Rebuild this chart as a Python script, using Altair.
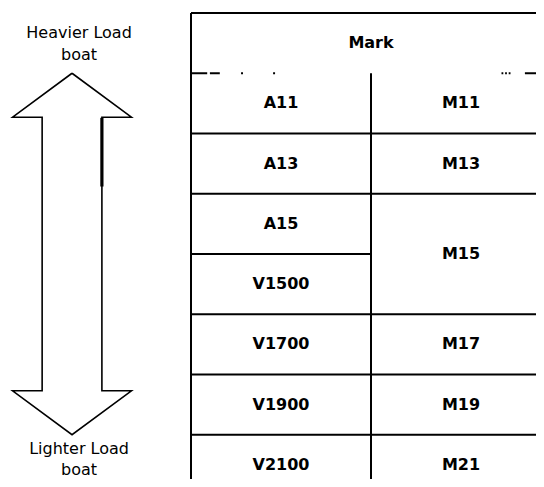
import altair as alt
import pandas as pd

# ---- content -------------------------------------------------------------
HEADER = "Mark"
LEFT_LABELS = ["A11", "A13", "A15", "V1500", "V1700", "V1900", "V2100"]
RIGHT_LABELS = ["M11", "M13", "M15", "M17", "M19", "M21"]
RIGHT_SPANS = [1, 1, 2, 1, 1, 1]          # rows covered by each right-hand cell
TOP_LABEL = ["Heavier Load", "boat"]
BOTTOM_LABEL = ["Lighter Load", "boat"]

# ---- layout (table units: 1 column wide, 1 row high; header = row 0) ------
W, H = 528, 471
X0_PX, COL_PX = 183, 180
Y0_PX, ROW_PX = 5, 60.25
XDOM = [-X0_PX / COL_PX, (W - X0_PX) / COL_PX]
YDOM = [-Y0_PX / ROW_PX, (H - Y0_PX) / ROW_PX]
N_ROWS = len(LEFT_LABELS)

# arrow shape parameters (table units)
A_CX = -0.661
A_HEAD_HALF = 0.33
A_SHAFT_HALF = 0.166
A_TOP, A_BOTTOM = 1.0, 7.0
A_HEAD_LEN = 0.73
A_HEAVY_SPAN = (1.74, 2.88)               # darker stretch of the right shaft edge
LABEL_CX = -0.622
LABEL_ROWS_TOP = [0.33, 0.69]
LABEL_ROWS_BOTTOM = [7.23, 7.58]

# header separator as scanned: (start, end) in column units
HEADER_SEGMENTS = [(0.0, 0.09), (0.105, 0.16), (0.278, 0.289), (0.456, 0.467),
                   (1.725, 1.735), (1.745, 1.755), (1.765, 1.775), (1.855, 2.0)]

xs = alt.Scale(domain=XDOM, nice=False, zero=False)
ys = alt.Scale(domain=YDOM, nice=False, zero=False, reverse=True)

# ---- cells ---------------------------------------------------------------
cells = [{"c": 1.0, "r": 0.5, "t": HEADER}]
for i, lab in enumerate(LEFT_LABELS):
    cells.append({"c": 0.5, "r": i + 1.5, "t": lab})
start = 1
right_starts = []
for lab, span in zip(RIGHT_LABELS, RIGHT_SPANS):
    cells.append({"c": 1.5, "r": start + span / 2, "t": lab})
    right_starts.append(start)
    start += span
cells_df = pd.DataFrame(cells)

# ---- grid lines ----------------------------------------------------------
hlines = [{"c0": 0.0, "c1": 2.0, "r": 0.0}, {"c0": 0.0, "c1": 2.0, "r": N_ROWS + 1.0}]
for r in range(2, N_ROWS + 1):
    hlines.append({"c0": 0.0, "c1": 1.0, "r": float(r)})
for r in right_starts[1:]:
    hlines.append({"c0": 1.0, "c1": 2.0, "r": float(r)})
for a, b in HEADER_SEGMENTS:
    hlines.append({"c0": a, "c1": b, "r": 1.0})
hl_df = pd.DataFrame(hlines)

vl_df = pd.DataFrame([
    {"c": 0.0, "r0": 0.0, "r1": N_ROWS + 1.2},
    {"c": 1.0, "r0": 1.0, "r1": N_ROWS + 1.2},
    {"c": 2.0, "r0": 0.0, "r1": N_ROWS + 1.2},
])

# ---- arrow outline -------------------------------------------------------
pts = [
    (A_CX, A_TOP),
    (A_CX + A_HEAD_HALF, A_TOP + A_HEAD_LEN),
    (A_CX + A_SHAFT_HALF, A_TOP + A_HEAD_LEN),
    (A_CX + A_SHAFT_HALF, A_BOTTOM - A_HEAD_LEN),
    (A_CX + A_HEAD_HALF, A_BOTTOM - A_HEAD_LEN),
    (A_CX, A_BOTTOM),
    (A_CX - A_HEAD_HALF, A_BOTTOM - A_HEAD_LEN),
    (A_CX - A_SHAFT_HALF, A_BOTTOM - A_HEAD_LEN),
    (A_CX - A_SHAFT_HALF, A_TOP + A_HEAD_LEN),
    (A_CX - A_HEAD_HALF, A_TOP + A_HEAD_LEN),
    (A_CX, A_TOP),
]
arrow_df = pd.DataFrame([{"c": c, "r": r, "o": i} for i, (c, r) in enumerate(pts)])
heavy_df = pd.DataFrame([{"c": A_CX + A_SHAFT_HALF, "r0": A_HEAVY_SPAN[0], "r1": A_HEAVY_SPAN[1]}])

labels_df = pd.DataFrame(
    [{"c": LABEL_CX, "r": r, "t": t} for t, r in zip(TOP_LABEL, LABEL_ROWS_TOP)]
    + [{"c": LABEL_CX, "r": r, "t": t} for t, r in zip(BOTTOM_LABEL, LABEL_ROWS_BOTTOM)]
)

# ---- marks ---------------------------------------------------------------
h_rules = alt.Chart(hl_df).mark_rule(color="black", strokeWidth=2, clip=True).encode(
    x=alt.X("c0:Q", scale=xs, axis=None), x2="c1",
    y=alt.Y("r:Q", scale=ys, axis=None),
)
v_rules = alt.Chart(vl_df).mark_rule(color="black", strokeWidth=2, clip=True).encode(
    x=alt.X("c:Q", scale=xs, axis=None),
    y=alt.Y("r0:Q", scale=ys, axis=None), y2="r1",
)
cell_text = alt.Chart(cells_df).mark_text(
    font="DejaVu Sans", fontSize=16, fontWeight="bold", color="black", baseline="middle"
).encode(
    x=alt.X("c:Q", scale=xs, axis=None),
    y=alt.Y("r:Q", scale=ys, axis=None),
    text="t:N",
)
arrow = alt.Chart(arrow_df).mark_line(color="black", strokeWidth=1.6, clip=True).encode(
    x=alt.X("c:Q", scale=xs, axis=None),
    y=alt.Y("r:Q", scale=ys, axis=None),
    order="o:Q",
)
heavy = alt.Chart(heavy_df).mark_rule(color="black", strokeWidth=3.2).encode(
    x=alt.X("c:Q", scale=xs, axis=None),
    y=alt.Y("r0:Q", scale=ys, axis=None), y2="r1",
)
label_text = alt.Chart(labels_df).mark_text(
    font="DejaVu Sans", fontSize=16, color="black", baseline="middle"
).encode(
    x=alt.X("c:Q", scale=xs, axis=None),
    y=alt.Y("r:Q", scale=ys, axis=None),
    text="t:N",
)

chart = alt.layer(h_rules, v_rules, arrow, heavy, cell_text, label_text).properties(
    width=W, height=H, padding=0, autosize=alt.AutoSizeParams(type="none")
).configure_view(stroke=None)

chart.save("out.html", embed_options={"renderer": "svg", "actions": False})
